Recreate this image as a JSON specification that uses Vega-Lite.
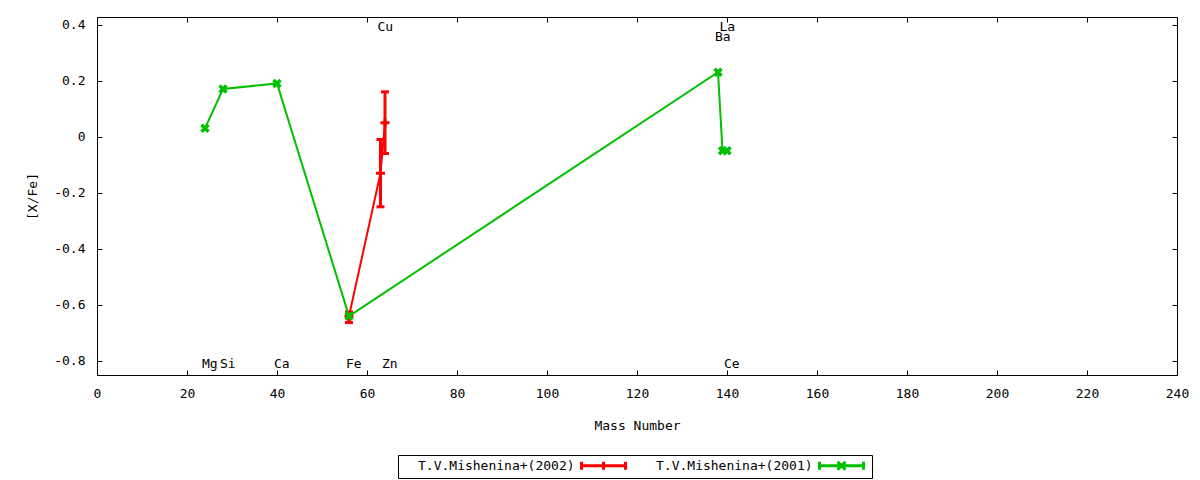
{
  "$schema": "https://vega.github.io/schema/vega-lite/v6.json",
  "width": 1080,
  "height": 358,
  "autosize": "none",
  "padding": {"left": 97, "top": 17, "right": 23, "bottom": 105},
  "background": "white",
  "datasets": {
    "abund": [
      {"source": "T.V.Mishenina+(2002)", "element": "Fe", "mass": 56, "xfe": -0.64, "lo": -0.663, "hi": -0.625},
      {"source": "T.V.Mishenina+(2002)", "element": "Cu", "mass": 63, "xfe": -0.13, "lo": -0.25, "hi": -0.01},
      {"source": "T.V.Mishenina+(2002)", "element": "Zn", "mass": 64, "xfe": 0.05, "lo": -0.06, "hi": 0.16},
      {"source": "T.V.Mishenina+(2001)", "element": "Mg", "mass": 24, "xfe": 0.03, "lo": 0.03, "hi": 0.03},
      {"source": "T.V.Mishenina+(2001)", "element": "Si", "mass": 28, "xfe": 0.17, "lo": 0.17, "hi": 0.17},
      {"source": "T.V.Mishenina+(2001)", "element": "Ca", "mass": 40, "xfe": 0.19, "lo": 0.19, "hi": 0.19},
      {"source": "T.V.Mishenina+(2001)", "element": "Fe", "mass": 56, "xfe": -0.64, "lo": -0.64, "hi": -0.64},
      {"source": "T.V.Mishenina+(2001)", "element": "Ba", "mass": 138, "xfe": 0.23, "lo": 0.23, "hi": 0.23},
      {"source": "T.V.Mishenina+(2001)", "element": "La", "mass": 139, "xfe": -0.05, "lo": -0.05, "hi": -0.05},
      {"source": "T.V.Mishenina+(2001)", "element": "Ce", "mass": 140, "xfe": -0.05, "lo": -0.05, "hi": -0.05}
    ],
    "elements": [
      {"element": "Mg", "mass": 24, "tier": "bottom"},
      {"element": "Si", "mass": 28, "tier": "bottom"},
      {"element": "Ca", "mass": 40, "tier": "bottom"},
      {"element": "Fe", "mass": 56, "tier": "bottom"},
      {"element": "Cu", "mass": 63, "tier": "top"},
      {"element": "Zn", "mass": 64, "tier": "bottom"},
      {"element": "Ba", "mass": 138, "tier": "upper"},
      {"element": "La", "mass": 139, "tier": "top"},
      {"element": "Ce", "mass": 140, "tier": "bottom"}
    ]
  },
  "layer": [
    {
      "data": {"name": "abund"},
      "layer": [
        {
          "transform": [{"filter": "datum.source === 'T.V.Mishenina+(2002)'"}],
          "mark": {"type": "line", "strokeWidth": 2},
          "encoding": {
            "x": {
              "field": "mass", "type": "quantitative",
              "scale": {"domain": [0, 240], "nice": false, "zero": false},
              "axis": {
                "title": "Mass Number",
                "values": [0, 20, 40, 60, 80, 100, 120, 140, 160, 180, 200, 220, 240],
                "labelFlush": false, "labelOverlap": false,
                "tickSize": -5, "labelPadding": 17, "titlePadding": 19
              }
            },
            "y": {
              "field": "xfe", "type": "quantitative",
              "scale": {"domain": [-0.85, 0.427], "nice": false, "zero": false},
              "axis": {
                "title": "[X/Fe]",
                "values": [-0.8, -0.6, -0.4, -0.2, 0, 0.2, 0.4],
                "labelExpr": "'' + datum.value",
                "tickSize": -5, "labelPadding": 17, "titlePadding": 14
              }
            },
            "color": {
              "field": "source", "type": "nominal",
              "scale": {
                "domain": ["T.V.Mishenina+(2002)", "T.V.Mishenina+(2001)"],
                "range": ["#ff0000", "#00c000"]
              },
              "legend": {
                "orient": "none", "legendX": 301, "legendY": 438,
                "direction": "horizontal", "title": null,
                "labelAlign": "left", "labelOffset": -194,
                "symbolOffset": 195,
                "columnPadding": 6,
                "padding": 2,
                "symbolType": "M-3.14,0L3.14,0M-3.14,-0.57L-3.14,0.57M3.14,-0.57L3.14,0.57M0,-0.57L0,0.57",
                "symbolSize": 196, "symbolStrokeWidth": 3,
                "symbolFillColor": "transparent",
                "encode": {
                  "symbols": {
                    "update": {
                      "shape": {"signal": "datum.value === 'T.V.Mishenina+(2001)' ? 'M-3.14,0L3.14,0M-3.14,-0.57L-3.14,0.57M3.14,-0.57L3.14,0.57M-0.57,-0.57L0.57,0.57M0.57,-0.57L-0.57,0.57' : 'M-3.14,0L3.14,0M-3.14,-0.57L-3.14,0.57M3.14,-0.57L3.14,0.57M0,-0.57L0,0.57'"}
                    }
                  }
                }
              }
            },
            "order": {"field": "mass"}
          }
        },
        {
          "transform": [{"filter": "datum.source === 'T.V.Mishenina+(2002)'"}],
          "mark": {"type": "rule", "strokeWidth": 3},
          "encoding": {
            "x": {"field": "mass", "type": "quantitative"},
            "y": {"field": "lo", "type": "quantitative"},
            "y2": {"field": "hi"},
            "color": {"field": "source", "type": "nominal"}
          }
        },
        {
          "transform": [{"filter": "datum.source === 'T.V.Mishenina+(2002)'"}],
          "mark": {"type": "point", "shape": "M-1,0L1,0", "size": 64, "strokeWidth": 3, "filled": false, "opacity": 1},
          "encoding": {
            "x": {"field": "mass", "type": "quantitative"},
            "y": {"field": "lo", "type": "quantitative"},
            "color": {"field": "source", "type": "nominal"}
          }
        },
        {
          "transform": [{"filter": "datum.source === 'T.V.Mishenina+(2002)'"}],
          "mark": {"type": "point", "shape": "M-1,0L1,0", "size": 64, "strokeWidth": 3, "filled": false, "opacity": 1},
          "encoding": {
            "x": {"field": "mass", "type": "quantitative"},
            "y": {"field": "hi", "type": "quantitative"},
            "color": {"field": "source", "type": "nominal"}
          }
        },
        {
          "transform": [{"filter": "datum.source === 'T.V.Mishenina+(2002)'"}],
          "mark": {"type": "point", "shape": "M-1,0L1,0M0,-1L0,1", "size": 81, "strokeWidth": 3, "filled": false, "opacity": 1},
          "encoding": {
            "x": {"field": "mass", "type": "quantitative"},
            "y": {"field": "xfe", "type": "quantitative"},
            "color": {"field": "source", "type": "nominal"}
          }
        },
        {
          "transform": [{"filter": "datum.source === 'T.V.Mishenina+(2001)'"}],
          "mark": {"type": "line", "strokeWidth": 2},
          "encoding": {
            "x": {"field": "mass", "type": "quantitative"},
            "y": {"field": "xfe", "type": "quantitative"},
            "color": {"field": "source", "type": "nominal"},
            "order": {"field": "mass"}
          }
        },
        {
          "transform": [{"filter": "datum.source === 'T.V.Mishenina+(2001)'"}],
          "mark": {"type": "point", "shape": "M-1,-1L1,1M1,-1L-1,1", "size": 49, "strokeWidth": 3.5, "filled": false, "opacity": 1},
          "encoding": {
            "x": {"field": "mass", "type": "quantitative"},
            "y": {"field": "xfe", "type": "quantitative"},
            "color": {"field": "source", "type": "nominal"}
          }
        },
        {
          "data": {"name": "elements"},
          "transform": [{"filter": "datum.tier === 'bottom'"}],
          "mark": {"type": "text", "align": "left", "baseline": "middle", "dx": -3, "font": "DejaVu Sans Mono", "fontSize": 13, "color": "black"},
          "encoding": {
            "x": {"field": "mass", "type": "quantitative"},
            "y": {"datum": -0.811},
            "text": {"field": "element"}
          }
        },
        {
          "data": {"name": "elements"},
          "transform": [{"filter": "datum.tier === 'top'"}],
          "mark": {"type": "text", "align": "left", "baseline": "middle", "dx": -3, "font": "DejaVu Sans Mono", "fontSize": 13, "color": "black"},
          "encoding": {
            "x": {"field": "mass", "type": "quantitative"},
            "y": {"datum": 0.393},
            "text": {"field": "element"}
          }
        },
        {
          "data": {"name": "elements"},
          "transform": [{"filter": "datum.tier === 'upper'"}],
          "mark": {"type": "text", "align": "left", "baseline": "middle", "dx": -3, "font": "DejaVu Sans Mono", "fontSize": 13, "color": "black"},
          "encoding": {
            "x": {"field": "mass", "type": "quantitative"},
            "y": {"datum": 0.354},
            "text": {"field": "element"}
          }
        }
      ]
    },
    {
      "data": {"name": "elements"},
      "mark": {"type": "point", "opacity": 0},
      "encoding": {
        "x": {
          "field": "mass", "type": "quantitative",
          "scale": {"domain": [0, 240], "nice": false, "zero": false},
          "axis": {"orient": "top", "title": null, "labels": false, "tickSize": -5,
                   "values": [0, 20, 40, 60, 80, 100, 120, 140, 160, 180, 200, 220, 240]}
        },
        "y": {
          "datum": 0, "type": "quantitative",
          "scale": {"domain": [-0.85, 0.427], "nice": false, "zero": false},
          "axis": {"orient": "right", "title": null, "labels": false, "tickSize": -5,
                   "values": [-0.8, -0.6, -0.4, -0.2, 0, 0.2, 0.4]}
        }
      }
    }
  ],
  "resolve": {"axis": {"x": "independent", "y": "independent"}},
  "config": {
    "font": "DejaVu Sans Mono",
    "view": {"stroke": "black", "strokeWidth": 1},
    "axis": {
      "grid": false, "domain": false,
      "tickColor": "black", "tickWidth": 1,
      "labelFont": "DejaVu Sans Mono", "labelFontSize": 13, "labelColor": "black",
      "titleFont": "DejaVu Sans Mono", "titleFontSize": 13, "titleColor": "black", "titleFontWeight": "normal"
    },
    "legend": {
      "labelFont": "DejaVu Sans Mono", "labelFontSize": 13, "labelColor": "black", "labelLimit": 0,
      "strokeColor": "black", "fillColor": "white", "cornerRadius": 0
    }
  }
}
